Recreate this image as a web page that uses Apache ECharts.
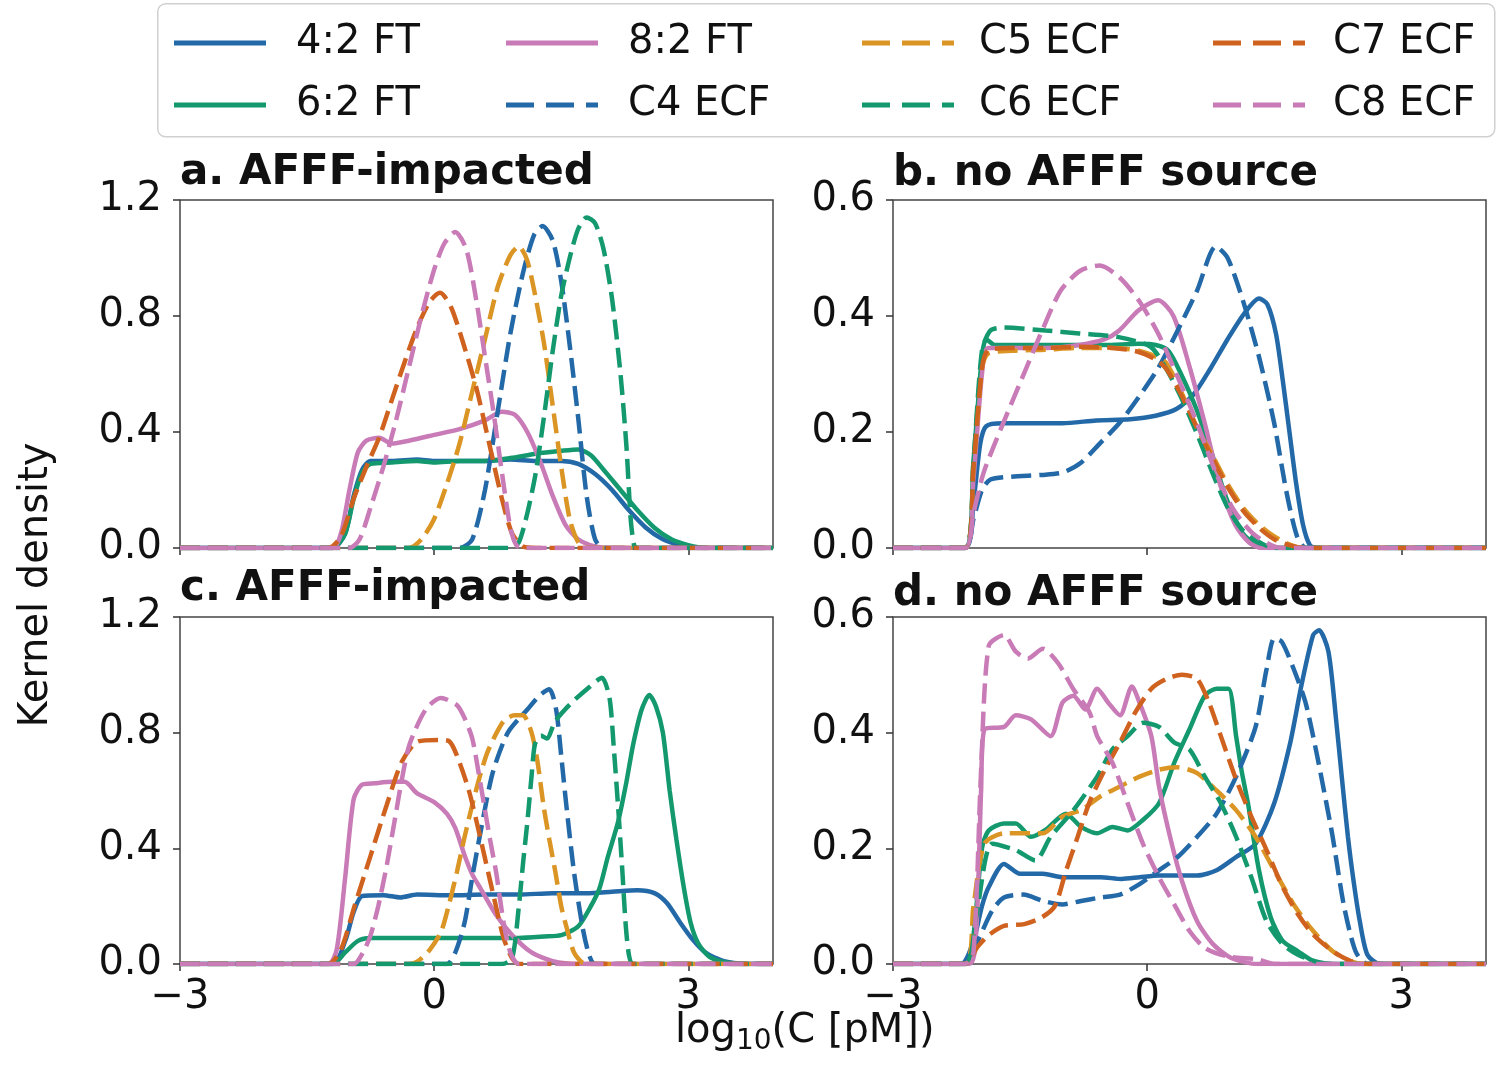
<!DOCTYPE html>
<html>
<head>
<meta charset="utf-8">
<script src="https://cdn.jsdelivr.net/npm/echarts@6/dist/echarts.min.js"></script>
<style>
html,body{margin:0;padding:0;background:#fff;}
#chart{width:1500px;height:1069px;}
</style>
</head>
<body>
<div id="chart"></div>
<script>
// ---------------- data (x = log10(C [pM]), y = kernel density) ----------------
const seriesNames = ['4:2 FT', '6:2 FT', '8:2 FT', 'C4 ECF', 'C5 ECF', 'C6 ECF', 'C7 ECF', 'C8 ECF'];
const panelTitles = ['a. AFFF-impacted', 'b. no AFFF source', 'c. AFFF-impacted', 'd. no AFFF source'];
const xTicks = [-3, 0, 3];
const yMaxes = [1.2, 0.6, 1.2, 0.6];
const yIntervals = [0.4, 0.2, 0.4, 0.2];

// Panel a
const a_42FT = [[-3,0],[-1.2,0],[-1.05,0.05],[-0.95,0.18],[-0.85,0.27],[-0.75,0.3],[-0.5,0.3],[-0.2,0.305],[0,0.3],[0.3,0.3],[0.6,0.3],[0.9,0.305],[1.2,0.3],[1.5,0.3],[1.7,0.29],[1.9,0.255],[2.1,0.2],[2.3,0.13],[2.5,0.07],[2.7,0.03],[2.9,0.01],[3.1,0.001],[4,0]];
const a_62FT = [[-3,0],[-1.2,0],[-1.05,0.05],[-0.95,0.17],[-0.85,0.26],[-0.75,0.29],[-0.5,0.295],[-0.2,0.3],[0,0.295],[0.3,0.3],[0.6,0.3],[0.9,0.31],[1.2,0.325],[1.5,0.335],[1.7,0.34],[1.85,0.32],[2.0,0.27],[2.2,0.2],[2.4,0.13],[2.6,0.07],[2.8,0.03],[3.0,0.01],[3.2,0],[4,0]];
const a_82FT = [[-3,0],[-1.2,0],[-1.1,0.05],[-1.0,0.2],[-0.9,0.33],[-0.8,0.37],[-0.65,0.38],[-0.5,0.36],[-0.3,0.37],[0,0.39],[0.3,0.41],[0.6,0.44],[0.8,0.47],[0.95,0.46],[1.1,0.4],[1.25,0.3],[1.4,0.18],[1.55,0.08],[1.7,0.03],[1.9,0.005],[2.1,0],[4,0]];
const a_C4 = [[-3,0],[0.3,0],[0.45,0.03],[0.6,0.2],[0.75,0.47],[0.9,0.74],[1.05,0.95],[1.18,1.08],[1.28,1.11],[1.4,1.06],[1.5,0.92],[1.6,0.7],[1.7,0.45],[1.8,0.18],[1.9,0.03],[2.0,0],[4,0]];
const a_C5 = [[-3,0],[-0.3,0],[-0.15,0.03],[0,0.1],[0.15,0.22],[0.3,0.36],[0.45,0.54],[0.6,0.72],[0.75,0.9],[0.9,1.01],[1.0,1.04],[1.1,0.99],[1.2,0.86],[1.3,0.7],[1.4,0.49],[1.5,0.28],[1.6,0.1],[1.7,0.02],[1.8,0],[4,0]];
const a_C6 = [[-3,0],[0.9,0],[1.0,0.02],[1.1,0.12],[1.2,0.26],[1.3,0.46],[1.4,0.68],[1.5,0.87],[1.6,1.0],[1.7,1.1],[1.8,1.14],[1.9,1.12],[2.0,1.03],[2.1,0.86],[2.2,0.6],[2.27,0.35],[2.32,0.1],[2.36,0.01],[2.4,0],[4,0]];
const a_C7 = [[-3,0],[-1.25,0],[-1.1,0.04],[-0.95,0.17],[-0.8,0.28],[-0.65,0.38],[-0.5,0.51],[-0.35,0.64],[-0.2,0.76],[-0.05,0.85],[0.07,0.88],[0.2,0.83],[0.35,0.7],[0.5,0.55],[0.65,0.36],[0.8,0.17],[0.92,0.05],[1.05,0.005],[1.2,0],[4,0]];
const a_C8 = [[-3,0],[-1.0,0],[-0.88,0.03],[-0.75,0.14],[-0.6,0.28],[-0.45,0.44],[-0.3,0.62],[-0.15,0.8],[0,0.96],[0.12,1.05],[0.25,1.09],[0.38,1.03],[0.5,0.85],[0.6,0.66],[0.7,0.47],[0.8,0.26],[0.9,0.07],[0.97,0.01],[1.05,0],[4,0]];

// Panel b
const b_42FT = [[-3,0],[-2.15,0],[-2.05,0.08],[-1.97,0.18],[-1.9,0.21],[-1.7,0.215],[-1.4,0.215],[-1.0,0.215],[-0.6,0.22],[-0.2,0.222],[0.1,0.228],[0.35,0.24],[0.55,0.265],[0.75,0.31],[0.95,0.36],[1.15,0.405],[1.32,0.43],[1.42,0.42],[1.52,0.37],[1.6,0.29],[1.68,0.2],[1.76,0.11],[1.84,0.04],[1.92,0.005],[2.0,0],[4,0]];
const b_62FT = [[-3,0],[-2.15,0],[-2.05,0.15],[-1.95,0.33],[-1.9,0.36],[-1.8,0.35],[-1.4,0.35],[-1.0,0.35],[-0.5,0.35],[-0.1,0.352],[0.1,0.35],[0.25,0.34],[0.4,0.3],[0.58,0.24],[0.77,0.16],[0.95,0.08],[1.13,0.025],[1.3,0.005],[1.45,0],[4,0]];
const b_82FT = [[-3,0],[-2.15,0],[-2.05,0.12],[-1.95,0.3],[-1.88,0.345],[-1.6,0.345],[-1.2,0.345],[-0.8,0.35],[-0.5,0.36],[-0.33,0.375],[-0.1,0.41],[0.13,0.427],[0.31,0.4],[0.49,0.318],[0.68,0.215],[0.86,0.11],[1.04,0.04],[1.2,0.01],[1.35,0],[4,0]];
const b_C4 = [[-3,0],[-2.15,0],[-2.05,0.05],[-1.95,0.1],[-1.85,0.118],[-1.6,0.123],[-1.24,0.126],[-1.0,0.13],[-0.79,0.146],[-0.56,0.18],[-0.33,0.215],[-0.1,0.26],[0.13,0.31],[0.36,0.375],[0.59,0.444],[0.81,0.52],[0.95,0.5],[1.13,0.427],[1.32,0.33],[1.5,0.215],[1.64,0.1],[1.77,0.02],[1.88,0],[4,0]];
const b_C5 = [[-3,0],[-2.15,0],[-2.05,0.14],[-1.95,0.31],[-1.88,0.335],[-1.6,0.34],[-1.2,0.342],[-0.8,0.345],[-0.4,0.345],[-0.1,0.34],[0.1,0.33],[0.22,0.32],[0.4,0.27],[0.58,0.21],[0.77,0.16],[0.95,0.11],[1.13,0.07],[1.32,0.04],[1.5,0.02],[1.7,0.005],[1.85,0],[4,0]];
const b_C6 = [[-3,0],[-2.15,0],[-2.05,0.15],[-1.95,0.34],[-1.85,0.375],[-1.7,0.38],[-1.2,0.375],[-0.8,0.37],[-0.35,0.364],[0.04,0.347],[0.22,0.31],[0.4,0.26],[0.58,0.2],[0.77,0.13],[0.95,0.07],[1.13,0.03],[1.35,0.008],[1.5,0],[4,0]];
const b_C7 = [[-3,0],[-2.15,0],[-2.05,0.14],[-1.95,0.31],[-1.88,0.34],[-1.6,0.345],[-1.2,0.345],[-0.8,0.347],[-0.4,0.345],[-0.1,0.338],[0.1,0.325],[0.22,0.31],[0.4,0.265],[0.58,0.21],[0.77,0.155],[0.95,0.105],[1.13,0.065],[1.32,0.035],[1.5,0.015],[1.7,0.004],[1.85,0],[4,0]];
const b_C8 = [[-3,0],[-2.15,0],[-2.05,0.06],[-1.93,0.13],[-1.7,0.215],[-1.47,0.295],[-1.24,0.375],[-1.02,0.444],[-0.79,0.478],[-0.56,0.487],[-0.33,0.467],[-0.1,0.427],[0.13,0.37],[0.36,0.295],[0.59,0.215],[0.81,0.13],[1.02,0.066],[1.24,0.026],[1.45,0.006],[1.6,0],[4,0]];

// Panel c
const c_42FT = [[-3,0],[-1.2,0],[-1.05,0.08],[-0.95,0.18],[-0.85,0.235],[-0.6,0.238],[-0.4,0.23],[-0.2,0.24],[0.2,0.238],[0.6,0.24],[1.0,0.24],[1.4,0.245],[1.8,0.245],[2.1,0.25],[2.4,0.255],[2.6,0.245],[2.75,0.21],[2.9,0.145],[3.05,0.085],[3.2,0.04],[3.4,0.012],[3.6,0.002],[3.8,0],[4,0]];
const c_62FT = [[-3,0],[-1.2,0],[-1.05,0.04],[-0.9,0.08],[-0.75,0.09],[-0.3,0.09],[0.2,0.09],[0.6,0.09],[1.0,0.09],[1.3,0.095],[1.5,0.1],[1.7,0.13],[1.85,0.2],[1.95,0.26],[2.05,0.37],[2.17,0.49],[2.27,0.63],[2.35,0.76],[2.45,0.88],[2.54,0.93],[2.62,0.89],[2.7,0.8],[2.78,0.6],[2.86,0.43],[2.95,0.26],[3.03,0.14],[3.12,0.07],[3.25,0.025],[3.45,0.005],[3.7,0],[4,0]];
const c_82FT = [[-3,0],[-1.25,0],[-1.15,0.05],[-1.05,0.3],[-0.95,0.57],[-0.85,0.62],[-0.7,0.625],[-0.5,0.63],[-0.35,0.63],[-0.2,0.59],[0,0.56],[0.15,0.52],[0.25,0.47],[0.36,0.375],[0.45,0.31],[0.55,0.26],[0.73,0.17],[0.92,0.1],[1.15,0.04],[1.4,0.01],[1.7,0],[4,0]];
const c_C4 = [[-3,0],[0.15,0],[0.25,0.04],[0.36,0.144],[0.45,0.3],[0.55,0.46],[0.69,0.66],[0.87,0.8],[1.1,0.88],[1.25,0.93],[1.36,0.95],[1.44,0.88],[1.5,0.72],[1.56,0.55],[1.65,0.32],[1.75,0.13],[1.83,0.03],[1.9,0],[4,0]];
const c_C5 = [[-3,0],[-0.3,0],[-0.19,0.01],[-0.05,0.05],[0.08,0.11],[0.17,0.2],[0.27,0.32],[0.36,0.44],[0.45,0.55],[0.55,0.66],[0.64,0.74],[0.82,0.84],[0.95,0.86],[1.05,0.86],[1.15,0.8],[1.22,0.7],[1.29,0.55],[1.36,0.43],[1.43,0.32],[1.5,0.2],[1.56,0.13],[1.65,0.04],[1.75,0.005],[1.85,0],[4,0]];
const c_C6 = [[-3,0],[0.8,0],[0.92,0.02],[1.0,0.2],[1.05,0.35],[1.1,0.49],[1.15,0.65],[1.19,0.76],[1.26,0.79],[1.33,0.78],[1.43,0.84],[1.61,0.9],[1.84,0.96],[1.98,0.99],[2.07,0.92],[2.12,0.75],[2.17,0.55],[2.22,0.33],[2.26,0.14],[2.3,0.03],[2.35,0],[4,0]];
const c_C7 = [[-3,0],[-1.25,0],[-1.1,0.05],[-0.94,0.2],[-0.75,0.375],[-0.56,0.55],[-0.38,0.7],[-0.19,0.77],[0.05,0.775],[0.18,0.77],[0.27,0.72],[0.41,0.6],[0.55,0.43],[0.69,0.25],[0.82,0.09],[0.92,0.02],[1.0,0],[4,0]];
const c_C8 = [[-3,0],[-0.95,0],[-0.84,0.04],[-0.75,0.1],[-0.66,0.2],[-0.56,0.34],[-0.47,0.49],[-0.38,0.64],[-0.29,0.76],[-0.1,0.88],[0.08,0.92],[0.27,0.895],[0.36,0.85],[0.45,0.78],[0.52,0.67],[0.59,0.55],[0.66,0.43],[0.73,0.32],[0.82,0.144],[0.9,0.04],[1.0,0],[4,0]];

// Panel d
const d_42FT = [[-3,0],[-2.2,0],[-2.05,0.04],[-1.95,0.1],[-1.87,0.133],[-1.69,0.173],[-1.5,0.156],[-1.23,0.156],[-1.0,0.15],[-0.55,0.15],[-0.3,0.147],[-0.09,0.15],[0.14,0.153],[0.59,0.153],[0.82,0.162],[1.05,0.185],[1.28,0.208],[1.5,0.278],[1.69,0.383],[1.82,0.481],[1.96,0.569],[2.03,0.577],[2.14,0.54],[2.23,0.423],[2.3,0.32],[2.37,0.22],[2.44,0.14],[2.51,0.074],[2.6,0.016],[2.75,0],[4,0]];
const d_62FT = [[-3,0],[-2.15,0],[-2.05,0.05],[-1.95,0.2],[-1.87,0.231],[-1.69,0.243],[-1.55,0.243],[-1.37,0.22],[-1.2,0.232],[-0.96,0.26],[-0.78,0.237],[-0.59,0.226],[-0.41,0.237],[-0.23,0.231],[-0.05,0.249],[0.14,0.278],[0.32,0.348],[0.5,0.406],[0.68,0.464],[0.82,0.476],[0.96,0.476],[1.05,0.394],[1.12,0.33],[1.19,0.278],[1.32,0.162],[1.46,0.08],[1.6,0.04],[1.78,0.022],[1.96,0.005],[2.1,0],[4,0]];
const d_82FT = [[-3,0],[-2.1,0],[-2.02,0.05],[-1.96,0.3],[-1.92,0.406],[-1.69,0.41],[-1.55,0.43],[-1.37,0.423],[-1.14,0.394],[-1.0,0.452],[-0.87,0.464],[-0.73,0.44],[-0.59,0.476],[-0.46,0.452],[-0.32,0.43],[-0.18,0.48],[-0.09,0.452],[0.05,0.394],[0.14,0.307],[0.27,0.22],[0.41,0.144],[0.59,0.074],[0.78,0.034],[1.0,0.01],[1.3,0],[4,0]];
const d_C4 = [[-3,0],[-2.15,0],[-2.0,0.04],[-1.83,0.092],[-1.69,0.115],[-1.46,0.12],[-1.23,0.109],[-1.0,0.103],[-0.78,0.109],[-0.55,0.115],[-0.32,0.12],[-0.09,0.138],[0.14,0.162],[0.36,0.185],[0.59,0.22],[0.82,0.26],[1.05,0.324],[1.28,0.41],[1.41,0.51],[1.5,0.563],[1.59,0.557],[1.73,0.51],[1.87,0.452],[2.0,0.365],[2.1,0.29],[2.19,0.22],[2.32,0.103],[2.46,0.022],[2.6,0],[4,0]];
const d_C5 = [[-3,0],[-2.15,0],[-2.05,0.1],[-1.92,0.208],[-1.69,0.226],[-1.23,0.226],[-1.0,0.255],[-0.78,0.266],[-0.55,0.29],[-0.32,0.307],[-0.09,0.324],[0.14,0.336],[0.36,0.34],[0.59,0.33],[0.82,0.3],[1.05,0.266],[1.28,0.22],[1.5,0.162],[1.73,0.103],[1.96,0.057],[2.19,0.022],[2.4,0.005],[2.55,0],[4,0]];
const d_C6 = [[-3,0],[-2.15,0],[-2.02,0.08],[-1.83,0.208],[-1.55,0.197],[-1.32,0.179],[-1.14,0.22],[-0.87,0.266],[-0.59,0.324],[-0.41,0.371],[-0.23,0.394],[-0.05,0.417],[0.14,0.41],[0.32,0.383],[0.5,0.371],[0.68,0.324],[0.87,0.278],[1.05,0.22],[1.23,0.15],[1.41,0.074],[1.6,0.034],[1.78,0.016],[2.0,0.004],[2.2,0],[4,0]];
const d_C7 = [[-3,0],[-2.15,0],[-2.0,0.03],[-1.87,0.05],[-1.69,0.066],[-1.45,0.069],[-1.25,0.08],[-1.09,0.1],[-0.96,0.16],[-0.82,0.22],[-0.68,0.28],[-0.5,0.336],[-0.32,0.383],[-0.14,0.435],[0.05,0.476],[0.23,0.493],[0.41,0.5],[0.59,0.493],[0.73,0.452],[0.87,0.394],[1.05,0.319],[1.23,0.255],[1.41,0.197],[1.6,0.133],[1.78,0.086],[1.96,0.051],[2.19,0.022],[2.4,0.005],[2.55,0],[4,0]];
const d_C8 = [[-3,0],[-2.15,0],[-2.05,0.02],[-1.96,0.336],[-1.87,0.55],[-1.69,0.569],[-1.55,0.54],[-1.41,0.528],[-1.23,0.545],[-1.05,0.52],[-0.87,0.475],[-0.68,0.435],[-0.59,0.394],[-0.41,0.348],[-0.23,0.278],[-0.05,0.208],[0.14,0.15],[0.32,0.103],[0.5,0.057],[0.68,0.028],[0.95,0.013],[1.3,0.008],[1.5,0],[4,0]];

const panelData = [
  [a_42FT, a_62FT, a_82FT, a_C4, a_C5, a_C6, a_C7, a_C8],
  [b_42FT, b_62FT, b_82FT, b_C4, b_C5, b_C6, b_C7, b_C8],
  [c_42FT, c_62FT, c_82FT, c_C4, c_C5, c_C6, c_C7, c_C8],
  [d_42FT, d_62FT, d_82FT, d_C4, d_C5, d_C6, d_C7, d_C8]
];

// ---------------- styling ----------------
const FONT = 'DejaVu Sans';
const colors = ['#2369a8', '#14996f', '#c87bb6', '#2369a8', '#db9524', '#14996f', '#d0621f', '#c87bb6'];
const dashed = [false, false, false, true, true, true, true, true];
const grids = [
  {left: 180, top: 200, width: 593, height: 348},
  {left: 893, top: 200, width: 593, height: 348},
  {left: 180, top: 617, width: 593, height: 347},
  {left: 893, top: 617, width: 593, height: 347}
];
const titleTops = [152, 153, 568, 573];
const ICON_SOLID = 'path://M0,0h92v5h-92z';
const ICON_DASH = 'path://M0,0h28v5h-28z M40,0h28v5h-28z M80,0h12v5h-12z';

const fmtX = v => (v < 0 ? '\u2212' + Math.abs(v) : String(v));

const option = {
  animation: false,
  backgroundColor: '#ffffff',
  title: panelTitles.map((t, i) => ({
    text: t, left: grids[i].left, top: titleTops[i], padding: 0,
    textStyle: {fontFamily: FONT, fontSize: 42, fontWeight: 'bold', color: '#111'}
  })),
  grid: grids.map(g => Object.assign({show: true, borderColor: '#444', borderWidth: 1.5, backgroundColor: 'transparent'}, g)),
  xAxis: grids.map((g, i) => ({
    type: 'value', gridIndex: i, min: -3, max: 4, interval: 3,
    axisLine: {show: false, onZero: false}, splitLine: {show: false},
    axisTick: {show: true, length: 7, customValues: xTicks, lineStyle: {color: '#333', width: 1.5}},
    axisLabel: {show: i >= 2, customValues: xTicks, formatter: fmtX, margin: 14,
      fontFamily: FONT, fontSize: 40, color: '#111'}
  })),
  yAxis: grids.map((g, i) => ({
    type: 'value', gridIndex: i, min: 0, max: yMaxes[i], interval: yIntervals[i],
    axisLine: {show: false, onZero: false}, splitLine: {show: false},
    axisTick: {show: true, length: 7, lineStyle: {color: '#333', width: 1.5}},
    axisLabel: {formatter: v => v.toFixed(1), margin: 18, fontFamily: FONT, fontSize: 40, color: '#111'}
  })),
  legend: [
    ['4:2 FT', '6:2 FT'], ['8:2 FT', 'C4 ECF'], ['C5 ECF', 'C6 ECF'], ['C7 ECF', 'C8 ECF']
  ].map((d, k) => ({
    data: d.map(n => ({name: n, icon: dashed[seriesNames.indexOf(n)] ? ICON_DASH : ICON_SOLID})),
    orient: 'vertical', left: [169, 501, 857, 1208][k], top: 17,
    itemWidth: 92, itemHeight: 5, itemGap: 20, selectedMode: false,
    textStyle: {fontFamily: FONT, fontSize: 40, color: '#111', lineHeight: 42, padding: [0, 0, 0, [25, 25, 20, 23][k]]}
  })),
  graphic: [
    {type: 'rect', left: 157, top: 3, z: -10,
      shape: {width: 1337, height: 133, r: 8},
      style: {fill: '#fff', stroke: '#d0d0d0', lineWidth: 1.5}},
    {type: 'text', left: 675, top: 1012,
      style: {
        text: '{a|log}{b|10}{a|(C [pM])}',
        rich: {
          a: {fontFamily: FONT, fontSize: 40, lineHeight: 48, fill: '#111', verticalAlign: 'middle'},
          b: {fontFamily: FONT, fontSize: 28, lineHeight: 30, fill: '#111', verticalAlign: 'bottom'}
        }
      }},
    {type: 'text', x: 37, y: 585, rotation: Math.PI / 2,
      style: {text: 'Kernel density', font: '40px "DejaVu Sans"', fill: '#111', textAlign: 'center', textVerticalAlign: 'middle'}}
  ],
  series: []
};

panelData.forEach((arrs, p) => {
  arrs.forEach((arr, s) => {
    option.series.push({
      type: 'line', name: seriesNames[s], xAxisIndex: p, yAxisIndex: p,
      data: arr, showSymbol: false, symbol: 'none', smooth: 0.25,
      clip: true, silent: true,
      lineStyle: {color: colors[s], width: 4.5, type: dashed[s] ? [20, 8] : 'solid', cap: 'butt'},
      itemStyle: {color: colors[s]},
      emphasis: {disabled: true}
    });
  });
});

const chart = echarts.init(document.getElementById('chart'), null, {renderer: 'canvas'});
chart.setOption(option);
</script>
</body>
</html>
